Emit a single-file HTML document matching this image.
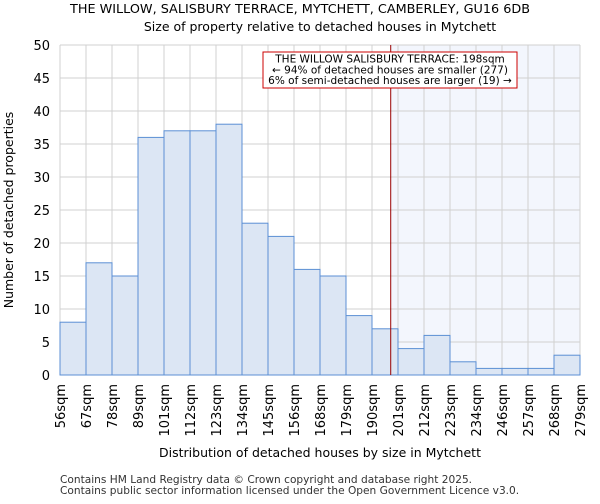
<!DOCTYPE html>
<html><head><meta charset="utf-8"><style>
body{margin:0;background:#fff;font-family:"DejaVu Sans","Liberation Sans",sans-serif;}
</style></head><body>
<svg id="chart" width="600" height="500" xmlns="http://www.w3.org/2000/svg" font-family="DejaVu Sans, Liberation Sans, sans-serif">
<text x="300" y="13" font-size="12.8" text-anchor="middle">THE WILLOW, SALISBURY TERRACE, MYTCHETT, CAMBERLEY, GU16 6DB</text>
<text x="320" y="31" font-size="12.5" text-anchor="middle">Size of property relative to detached houses in Mytchett</text>
<g id="plot"></g>
<text x="320" y="457" font-size="12.5" text-anchor="middle">Distribution of detached houses by size in Mytchett</text>
<text transform="translate(13,210) rotate(-90)" font-size="12.5" text-anchor="middle">Number of detached properties</text>
<text x="60" y="483" font-size="10.6" fill="#333">Contains HM Land Registry data © Crown copyright and database right 2025.</text>
<text x="60" y="494" font-size="10.6" fill="#333">Contains public sector information licensed under the Open Government Licence v3.0.</text>
</svg>
<script>
const edgeLabels=["56sqm","67sqm","78sqm","89sqm","101sqm","112sqm","123sqm","134sqm","145sqm","156sqm","168sqm","179sqm","190sqm","201sqm","212sqm","223sqm","234sqm","246sqm","257sqm","268sqm","279sqm"];
const counts=[8,17,15,36,37,37,38,23,21,16,15,9,7,4,6,2,1,1,1,3];
const yTicks=[0,5,10,15,20,25,30,35,40,45,50];
const markerBin=[12.72];
const NS="http://www.w3.org/2000/svg";
const L=60,R=580,T=45,B=375,yMax=50;
const nb=counts.length,bw=(R-L)/nb;
const x=i=>L+i*bw, y=v=>B-(v/yMax)*(B-T);
const g=document.getElementById('plot');
function mk(t,a){const e=document.createElementNS(NS,t);for(const k in a)e.setAttribute(k,a[k]);g.appendChild(e);return e;}
const mx=x(markerBin[0]);
let e=mk('rect',{x:mx,y:T,width:R-mx,height:B-T,fill:'#f3f6fd'});


yTicks.forEach(v=>{
 let l=mk('line',{x1:L,x2:R,y1:y(v),y2:y(v),stroke:'#d0d0d0','stroke-width':1});
 
 
 let t=mk('text',{x:L-10,y:y(v)+5,'font-size':13,'text-anchor':'end'});t.textContent=v;
 
 
});
edgeLabels.forEach((s,i)=>{
 let l=mk('line',{x1:x(i),x2:x(i),y1:T,y2:B,stroke:'#d0d0d0','stroke-width':1});
 
 
 let t=mk('text',{transform:`translate(${x(i)+5},384) rotate(-90)`,'font-size':13,'text-anchor':'end'});t.textContent=s;
 
 
});
counts.forEach((c,i)=>{
 let r=mk('rect',{x:x(i),y:y(c),width:bw,height:B-y(c),fill:'#dce6f4',stroke:'#5b8fd4','stroke-width':1});
 
 
});
let ml=mk('line',{x1:mx,x2:mx,y1:T,y2:B,stroke:'#990000','stroke-width':1});


let box=mk('rect',{x:263,y:52,width:254,height:36,fill:'#fff',stroke:'#cc0000','stroke-width':1});


["THE WILLOW SALISBURY TERRACE: 198sqm","← 94% of detached houses are smaller (277)","6% of semi-detached houses are larger (19) →"].forEach((s,i)=>{
 let t=mk('text',{x:390,y:62.5+i*10.8,'font-size':10.5,'text-anchor':'middle'});t.textContent=s;
 
 
});
</script>
</body></html>
